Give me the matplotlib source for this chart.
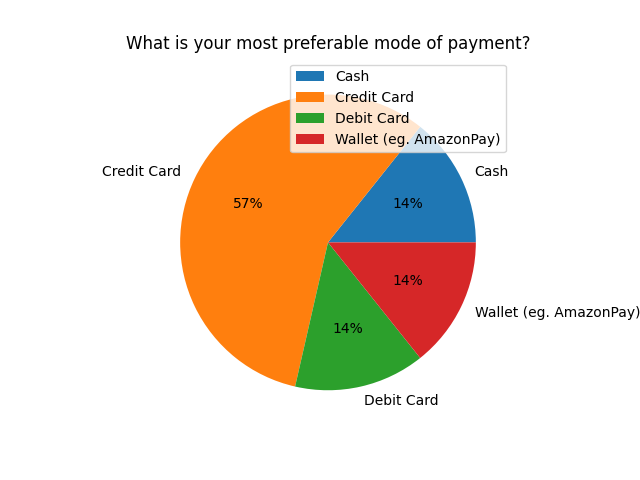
import matplotlib
matplotlib.use('Agg')
import matplotlib.pyplot as plt

labels = ['Cash', 'Credit Card', 'Debit Card', 'Wallet (eg. AmazonPay)']
counts = [1, 4, 1, 1]

fig, ax = plt.subplots(figsize=(6.4, 4.8), dpi=100)
ax.pie(counts, labels=labels, autopct='%1.0f%%')
ax.set_title('What is your most preferable mode of payment?')
ax.legend(loc='upper right')
fig.savefig('out.png')
